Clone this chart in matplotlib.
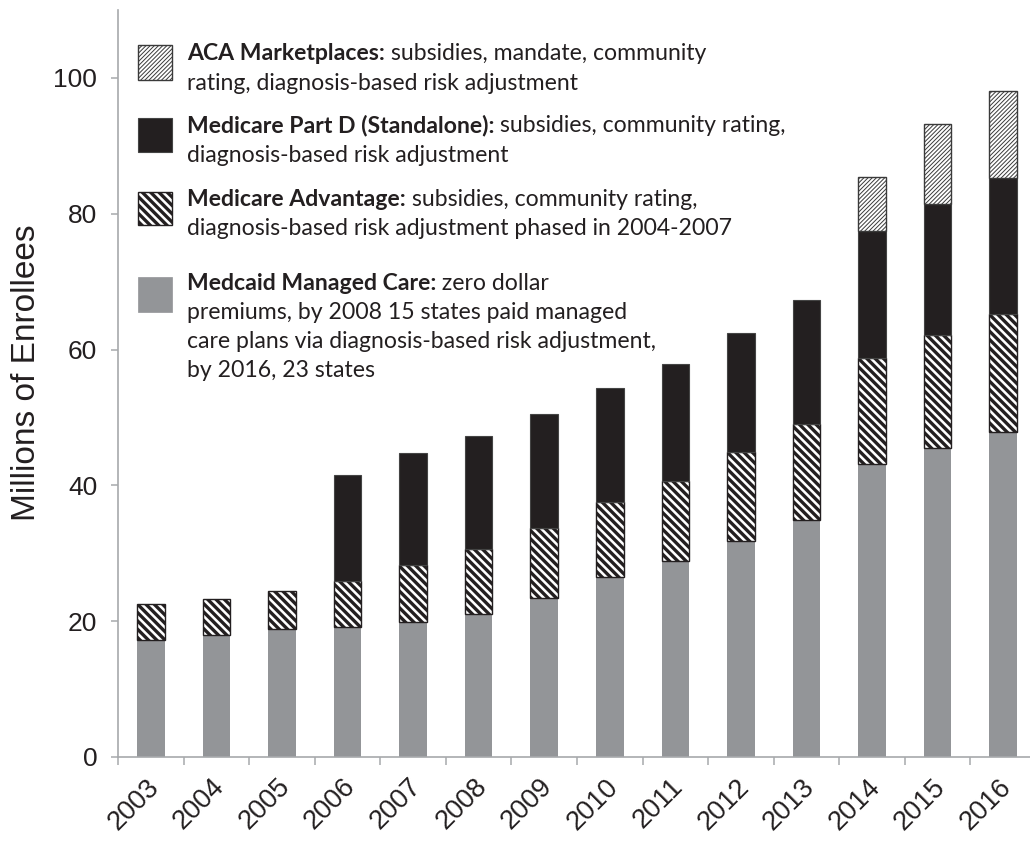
import numpy as np
import matplotlib
matplotlib.use("Agg")
import matplotlib.pyplot as plt
from matplotlib.patches import Rectangle
from matplotlib.transforms import ScaledTranslation

# ---- data ----
years = ["2003", "2004", "2005", "2006", "2007", "2008", "2009",
         "2010", "2011", "2012", "2013", "2014", "2015", "2016"]
medicaid = [17.2, 17.9, 18.8, 19.2, 19.9, 21.0, 23.4, 26.5, 28.9, 31.8, 34.9, 43.1, 45.5, 47.8]
med_adv = [5.4, 5.4, 5.6, 6.7, 8.4, 9.6, 10.3, 11.0, 11.8, 13.1, 14.1, 15.6, 16.7, 17.5]
part_d = [0, 0, 0, 15.6, 16.4, 16.6, 16.8, 16.8, 17.2, 17.6, 18.3, 18.8, 19.2, 20.0]
aca = [0, 0, 0, 0, 0, 0, 0, 0, 0, 0, 0, 7.9, 11.8, 12.7]
yticks = [0, 20, 40, 60, 80, 100]
ylabel = "Millions of Enrollees"

legend_items = [
    ("aca", "ACA Marketplaces:", [" subsidies, mandate, community",
                                  "rating, diagnosis-based risk adjustment"]),
    ("partd", "Medicare Part D (Standalone):", [" subsidies, community rating,",
                                                "diagnosis-based risk adjustment"]),
    ("ma", "Medicare Advantage:", [" subsidies, community rating,",
                                   "diagnosis-based risk adjustment phased in 2004-2007"]),
    ("medicaid", "Medcaid Managed Care:", [" zero dollar",
                                            "premiums, by 2008 15 states paid managed",
                                            "care plans via diagnosis-based risk adjustment,",
                                            "by 2016, 23 states"]),
]

# ---- styles ----
GRAY = "#939598"
BLACK = "#231f20"
AXIS_GRAY = "#a7a9ac"
TEXT = "#231f20"
W, H = 1030, 843
DPI = 100

styles = {
    "medicaid": dict(facecolor=GRAY, edgecolor="none", linewidth=0, hatch=None, hlw=1.0),
    "ma": dict(facecolor="white", edgecolor=BLACK, linewidth=1.0, hatch="\\\\\\\\", hlw=2.4),
    "partd": dict(facecolor=BLACK, edgecolor="#444444", linewidth=0.8, hatch=None, hlw=1.0),
    "aca": dict(facecolor="white", edgecolor="#3a3a3a", linewidth=1.0, hatch="////////", hlw=0.7),
}

fig = plt.figure(figsize=(W / DPI, H / DPI), dpi=DPI)
ax = fig.add_axes([118 / W, (H - 757) / H, (1036 - 118) / W, (757 - 10) / H])

x = np.arange(len(years))
bw = 0.42
series = [("medicaid", medicaid), ("ma", med_adv), ("partd", part_d), ("aca", aca)]
bottom = np.zeros(len(years))
for key, vals in series:
    vals = np.asarray(vals, dtype=float)
    st = styles[key]
    mask = vals > 0
    with plt.rc_context({"hatch.linewidth": st["hlw"]}):
        bars = ax.bar(x[mask], vals[mask], bw, bottom=bottom[mask],
                      facecolor=st["facecolor"], edgecolor=st["edgecolor"],
                      linewidth=st["linewidth"], hatch=st["hatch"], zorder=2)
        for b in bars:
            if hasattr(b, "set_hatch_linewidth"):
                b.set_hatch_linewidth(st["hlw"])
    bottom = bottom + vals

ax.set_xlim(-0.5, 13.5)
ax.set_ylim(0, 110)
for s in ["top", "right"]:
    ax.spines[s].set_visible(False)
for s in ["left", "bottom"]:
    ax.spines[s].set_color(AXIS_GRAY)
    ax.spines[s].set_linewidth(1.2)

ax.set_yticks(yticks)
ax.set_yticklabels([str(v) for v in yticks], fontsize=19, color=TEXT,
                   family=["Liberation Sans", "DejaVu Sans"])
ax.tick_params(axis="y", direction="out", length=5, width=1.1, color=AXIS_GRAY, pad=10)

ax.set_xticks(x)
ax.set_xticks(np.arange(len(years) + 1) - 0.5, minor=True)
ax.set_xticklabels(years, fontsize=19.5, color=TEXT, rotation=45, ha="right", va="top",
                   rotation_mode="anchor", family=["Liberation Sans", "DejaVu Sans"])
ax.tick_params(axis="x", which="major", length=0, pad=12)
ax.tick_params(axis="x", which="minor", direction="out", length=6, width=1.1, color=AXIS_GRAY)
off = ScaledTranslation(-5 / DPI, 0, fig.dpi_scale_trans)
for lab in ax.get_xticklabels():
    lab.set_transform(lab.get_transform() + off)

ax.set_ylabel(ylabel, fontsize=24, color=TEXT,
              family=["Liberation Sans", "DejaVu Sans"])
ax.yaxis.set_label_coords((42 - 118) / 918, (757 - 373) / 747)

# ---- legend (custom, drawn in figure pixel positions) ----
patch_boxes = {
    "aca": (138, 45, 172, 80),
    "partd": (138, 118, 172, 152),
    "ma": (138, 192, 172, 225),
    "medicaid": (138, 277, 172, 312),
}
baselines = {
    "aca": [60.5, 90],
    "partd": [132.5, 162.5],
    "ma": [206, 235],
    "medicaid": [290.5, 319, 347.5, 376.5],
}
LFONT = ["Lato", "DejaVu Sans"]
LSIZE = 16.6
for key, bold, lines in legend_items:
    x0, y0, x1, y1 = patch_boxes[key]
    st = styles[key]
    with plt.rc_context({"hatch.linewidth": st["hlw"]}):
        r = Rectangle((x0 / W, 1 - y1 / H), (x1 - x0) / W, (y1 - y0) / H,
                      transform=fig.transFigure, facecolor=st["facecolor"],
                      edgecolor=st["edgecolor"] if key != "medicaid" else GRAY,
                      linewidth=max(st["linewidth"], 0.5), hatch=st["hatch"])
        if hasattr(r, "set_hatch_linewidth"):
            r.set_hatch_linewidth(st["hlw"])
        fig.add_artist(r)
    bl = baselines[key]
    t = fig.text(187 / W, 1 - bl[0] / H, bold, fontsize=LSIZE, fontweight="bold",
                 family=LFONT, color=TEXT, va="baseline", ha="left")
    ax.annotate(lines[0], xy=(1, 0), xycoords=t, va="bottom", ha="left",
                fontsize=LSIZE, family=LFONT, color=TEXT, annotation_clip=False)
    for yb, ln in zip(bl[1:], lines[1:]):
        fig.text(187 / W, 1 - yb / H, ln, fontsize=LSIZE, family=LFONT,
                 color=TEXT, va="baseline", ha="left")

fig.savefig("out.png", dpi=DPI)
